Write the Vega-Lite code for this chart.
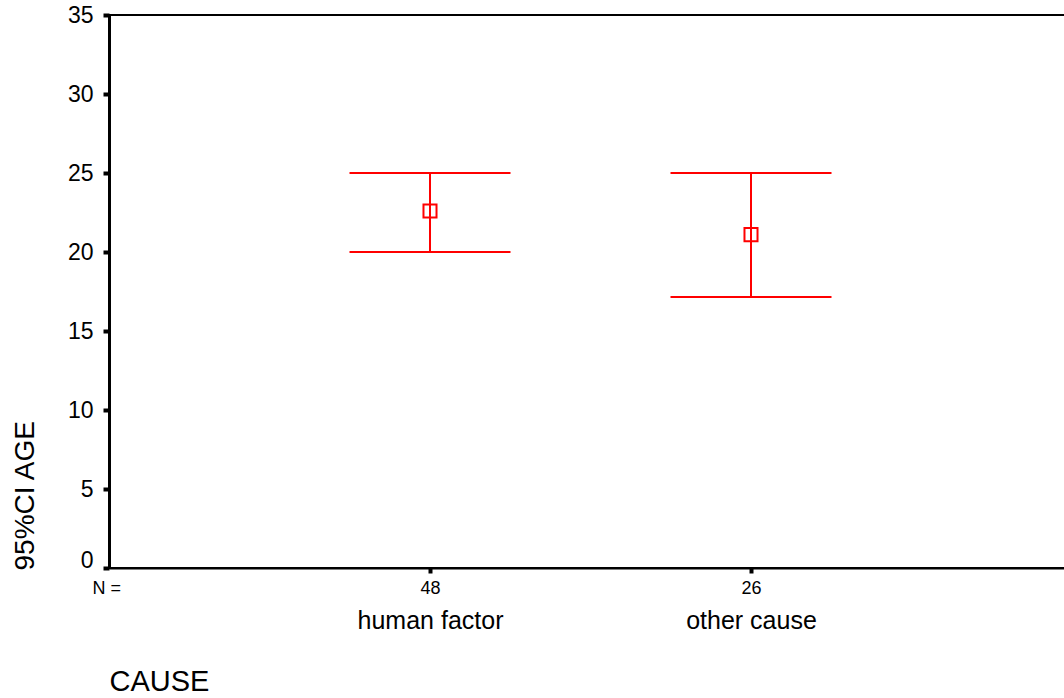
{
  "$schema": "https://vega.github.io/schema/vega-lite/v6.json",
  "autosize": "none",
  "padding": {"left": 109, "top": 15, "right": -8, "bottom": 130},
  "width": 963,
  "height": 553,
  "background": "white",
  "config": {
    "view": {"stroke": "black", "strokeWidth": 2},
    "font": "Liberation Sans",
    "axis": {"grid": false, "labelColor": "black", "titleColor": "black", "domainColor": "black", "tickColor": "black", "titleFontWeight": "normal", "labelFont": "Liberation Sans", "titleFont": "Liberation Sans"}
  },
  "data": {
    "values": [
      {"cause": "human factor", "n": "48", "lo": 20.0, "mean": 22.6, "hi": 25.0},
      {"cause": "other cause", "n": "26", "lo": 17.15, "mean": 21.1, "hi": 25.0}
    ]
  },
  "layer": [
    {
      "encoding": {
        "x": {
          "field": "cause", "type": "nominal", "sort": null,
          "scale": {"type": "point", "padding": 1},
          "axis": {
            "orient": "bottom", "domain": false, "ticks": false, "tickSize": 0,
            "labelPadding": 40, "labelFontSize": 25, "labelAngle": 0,
            "title": "CAUSE", "titleFontSize": 29, "titleX": 0, "titleY": 122,
            "titleAlign": "left", "titleBaseline": "alphabetic", "titleAngle": 0
          }
        },
        "y": {
          "field": "mean", "type": "quantitative",
          "scale": {"domain": [0, 35], "nice": false, "zero": true},
          "axis": {
            "values": [0, 5, 10, 15, 20, 25, 30, 35],
            "domainWidth": 3, "tickSize": 6, "tickWidth": 4,
            "labelFontSize": 23, "labelPadding": 10,
            "labelOffset": {"condition": {"test": "datum.value == 0", "value": -8}, "value": 0},
            "title": "95%CI AGE", "titleFontSize": 28, "titleAngle": -90,
            "titleX": -76, "titleY": 555, "titleAlign": "left", "titleBaseline": "alphabetic"
          }
        }
      },
      "layer": [
        {
          "mark": {"type": "rule", "color": "#ff0000", "strokeWidth": 2},
          "encoding": {"y": {"field": "lo", "type": "quantitative"}, "y2": {"field": "hi"}}
        },
        {
          "mark": {"type": "point", "shape": "square", "filled": false, "color": "#ff0000", "size": 170, "strokeWidth": 2, "opacity": 1}
        }
      ]
    },
    {
      "encoding": {
        "x": {
          "field": "n", "type": "nominal", "sort": null,
          "scale": {"type": "point", "padding": 1},
          "axis": {
            "orient": "bottom", "domainWidth": 2, "tickSize": 5, "tickWidth": 4,
            "labelPadding": 6, "labelFontSize": 18, "labelAngle": 0,
            "title": "N =", "titleFontSize": 18, "titleX": -17, "titleY": 25,
            "titleAlign": "left", "titleBaseline": "alphabetic", "titleAngle": 0
          }
        }
      },
      "layer": [
        {
          "mark": {"type": "tick", "orient": "horizontal", "size": 161, "thickness": 2, "color": "#ff0000", "opacity": 1},
          "encoding": {"y": {"field": "hi", "type": "quantitative", "scale": {"domain": [0, 35], "nice": false}}}
        },
        {
          "mark": {"type": "tick", "orient": "horizontal", "size": 161, "thickness": 2, "color": "#ff0000", "opacity": 1},
          "encoding": {"y": {"field": "lo", "type": "quantitative", "scale": {"domain": [0, 35], "nice": false}}}
        }
      ]
    }
  ],
  "resolve": {"scale": {"x": "independent"}}
}
